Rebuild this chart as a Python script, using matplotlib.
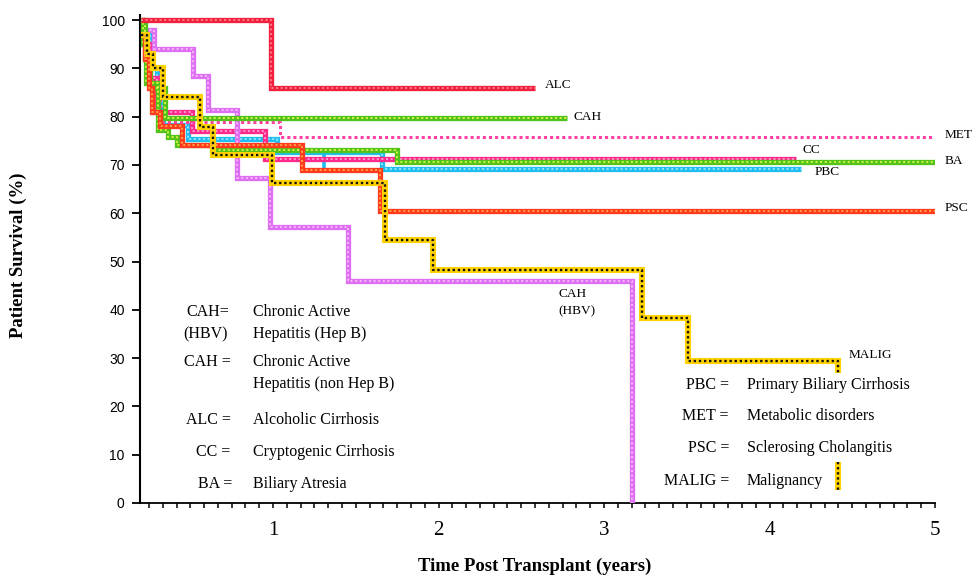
import matplotlib
matplotlib.use("Agg")
import matplotlib.pyplot as plt
from matplotlib.patches import Rectangle
import numpy as np

SERIF = "Liberation Serif"

# Kaplan-Meier steps: time post transplant (years) and patient survival (%)
alc_t = [0.20, 0.99, 2.585]
alc_s = [100, 86.0, 86.0]

cah_t = [0.20, 0.227, 0.257, 0.347, 2.776]
cah_s = [100, 92, 86, 79.8, 79.8]

met_t = [0.20, 0.227, 0.275, 0.317, 1.042, 5.0]
met_s = [100, 96, 90, 78.8, 75.8, 75.8]

cc_t = [0.20, 0.227, 0.257, 0.299, 0.51, 0.952, 4.16]
cc_s = [97, 95, 88, 81.0, 77.1, 71.3, 71.3]

ba_t = [0.20, 0.215, 0.233, 0.305, 0.366, 0.42, 0.631, 1.749, 5.0]
ba_s = [100, 95, 87, 77.2, 75.8, 74.2, 73.1, 70.6, 70.6]

pbc_t = [0.20, 0.257, 0.299, 0.335, 0.486, 1.024, 1.659, 4.19]
pbc_s = [97, 90, 85, 78.3, 75.3, 72.7, 69.2, 69.2]
pbc_censor_t = [1.308]

psc_t = [0.20, 0.227, 0.251, 0.269, 0.317, 0.45, 1.173, 1.647, 5.0]
psc_s = [97, 92, 86, 81, 78, 74.2, 69.0, 60.5, 60.5]

hbv_t = [0.20, 0.215, 0.281, 0.517, 0.607, 0.782, 0.982, 1.453, 3.169, 3.169]
hbv_s = [100, 98, 94, 88.4, 81.4, 67.3, 57.2, 46.0, 0, 0]

malig_t = [0.20, 0.239, 0.275, 0.335, 0.559, 0.637, 0.994, 1.677, 1.967,
           3.229, 3.507, 4.414, 4.414]
malig_s = [97, 93, 90, 84.1, 77.9, 72.0, 66.2, 54.5, 48.2, 38.3, 29.4, 2.7, 2.7]

left_abbr = ["CAH=", "(HBV)", "CAH =", "", "ALC =", "CC =", "BA ="]
left_desc = ["Chronic Active", "Hepatitis (Hep B)", "Chronic Active",
             "Hepatitis (non Hep B)", "Alcoholic Cirrhosis",
             "Cryptogenic Cirrhosis", "Biliary Atresia"]
right_abbr = ["PBC =", "MET =", "PSC =", "MALIG ="]
right_desc = ["Primary Biliary Cirrhosis", "Metabolic disorders",
              "Sclerosing Cholangitis", "Malignancy"]

W, H = 976, 581
fig = plt.figure(figsize=(W / 100, H / 100), dpi=100)
ax = fig.add_axes([140 / W, 1 - 503 / H, 795 / W, (503 - 15.2) / H])
ax.set_xlim(0.196, 5.0)
ax.set_ylim(0, 101)


def km(t, s, color, dots, lw=3.8, z=3, dash=(0, (1, 1.3))):
    ax.step(t, s, where="post", color=color, lw=lw, zorder=z,
            solid_joinstyle="miter", solid_capstyle="butt")
    ax.step(t, s, where="post", color=dots, lw=lw * 0.38, ls=dash, zorder=z + 0.1)


km(pbc_t, pbc_s, "#1fbdf0", "#8fe3ff", z=2)
pbc_level = np.interp(pbc_censor_t, pbc_t, pbc_s)
ax.vlines(pbc_censor_t, pbc_level - 2.6, pbc_level + 2.4, color="#1fbdf0", lw=2.6, zorder=2)
km(cc_t, cc_s, "#ff2b8c", "#ff93cc", z=3)
ax.step(met_t, met_s, where="post", color="#ff3fa2", lw=2.2, ls=(0, (1, 1)), zorder=4)
km(hbv_t, hbv_s, "#de6ef2", "#f6b6fb", z=4)
km(ba_t, ba_s, "#52c21d", "#d2f03a", z=5)
km(cah_t, cah_s, "#4fc21e", "#d6f23e", z=5)
km(psc_t, psc_s, "#ff3a1e", "#ffa040", z=6)
km(malig_t, malig_s, "#ffd200", "#111111", lw=4.4, z=6, dash=(0, (1, 1.2)))
km(alc_t, alc_s, "#f2203c", "#ff7a8a", z=7)

# blank panel under the right-hand key
ax.add_patch(Rectangle((3.45, 8.5), 1.6, 18.5, facecolor="white",
                       edgecolor="none", zorder=8, clip_on=False))

# end-of-curve labels
lab = dict(fontfamily=SERIF, fontsize=9.5, va="center", ha="left", zorder=9)
ax.text(2.643, 86.5, "ALC", **lab)
ax.text(2.813, 79.9, "CAH", **lab)
ax.text(5.06, 76.2, "MET", clip_on=False, **lab)
ax.text(4.202, 73.1, "CC", **lab)
ax.text(5.06, 70.8, "BA", clip_on=False, **lab)
ax.text(4.275, 68.5, "PBC", **lab)
ax.text(5.06, 61.1, "PSC", clip_on=False, **lab)
ax.text(2.722, 41.5, "CAH\n(HBV)", linespacing=1.55, **lab)
ax.text(4.475, 30.6, "MALIG", **lab)

# axes styling
for side in ["top", "right"]:
    ax.spines[side].set_visible(False)
ax.spines["left"].set_linewidth(1.5)
ax.spines["bottom"].set_linewidth(1.3)
ax.set_yticks(range(0, 101, 10))
ax.tick_params(axis="y", direction="out", length=6, width=1.3, pad=5,
               labelsize=10, labelfontfamily="Liberation Sans")
ax.set_xticks([1, 2, 3, 4, 5])
ax.set_xticks([k / 12 for k in range(3, 61) if k % 12], minor=True)
ax.tick_params(axis="x", which="both", direction="out", length=3.8, width=1.1)
ax.tick_params(axis="x", which="major", pad=9, labelsize=15, labelfontfamily=SERIF)

# disease keys
txt = dict(fontfamily=SERIF, fontsize=11.5, va="center", zorder=9)
left_y = [312, 334, 362, 384, 420, 452, 484]
left_x = [186, 183, 184, 0, 186, 196, 198]
for a, d, y, x in zip(left_abbr, left_desc, left_y, left_x):
    if a:
        fig.text(x / W, 1 - y / H, a, ha="left", **txt)
    fig.text(253 / W, 1 - y / H, d, ha="left", **txt)

right_y = [385, 416, 448, 481]
for a, d, y in zip(right_abbr, right_desc, right_y):
    fig.text(729 / W, 1 - y / H, a, ha="right", **txt)
    fig.text(747 / W, 1 - y / H, d, ha="left", **txt)

fig.text(535 / W, 1 - 566 / H, "Time Post Transplant (years)", fontfamily=SERIF,
         fontsize=13.5, fontweight="bold", ha="center", va="center")
fig.text(18 / W, 1 - 255 / H, "Patient Survival (%)", fontfamily=SERIF,
         fontsize=13.5, fontweight="bold", ha="center", va="center", rotation=90)

fig.savefig("out.png", dpi=100)
